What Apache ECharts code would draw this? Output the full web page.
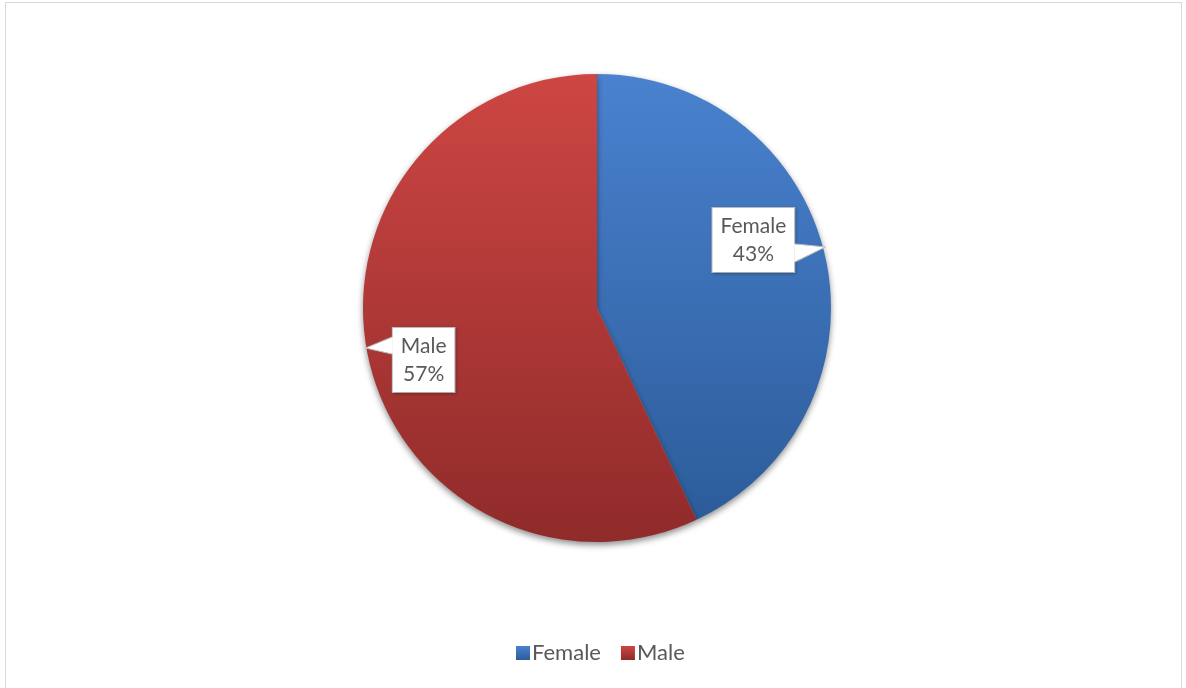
<!DOCTYPE html>
<html>
<head>
<meta charset="utf-8">
<script src="https://cdn.jsdelivr.net/npm/echarts@6/dist/echarts.min.js"></script>
<style>
  html, body { margin: 0; padding: 0; background: #fff; }
  #frame { position: absolute; left: 5px; top: 2px; width: 1177px; height: 690px; border: 1px solid #d9d9d9; box-sizing: border-box; }
  #chart { position: absolute; left: 0; top: 0; width: 1186px; height: 688px; }
</style>
</head>
<body>
<div id="frame"></div>
<div id="chart"></div>
<script>
// gender split
var categories = ['Female', 'Male'];
var percents = [43, 57];
var topColors = ['#4a82cf', '#cd4643'];
var bottomColors = ['#2c5c9a', '#8f2b2a'];

function grad(i) {
	return new echarts.graphic.LinearGradient(0, 0, 0, 1, [
		{ offset: 0, color: topColors[i] },
		{ offset: 1, color: bottomColors[i] }
	]);
}

var pieData = [];
for (var i = 0; i < categories.length; i++) {
	pieData.push({ name: categories[i], value: percents[i], itemStyle: { color: grad(i) } });
}

/*callout box placement, relative to the slice edge point*/
var boxOffset = [[-72, -17], [55, 1]];
var tipOffset = [[0, -10], [-3, -11]];
var baseSpan = [[4, 22], [-23, -6]];
var callouts = [];

var myChart = echarts.init(document.getElementById('chart'));
var option = {
	animation: false,
	legend: {
		bottom: 19,
		left: 511,
		itemWidth: 14,
		itemHeight: 14,
		itemGap: 20,
		icon: 'rect',
		textStyle: { fontFamily: 'Lato', fontSize: 22, color: '#595959', padding: [0, 0, 0, -3] },
		data: categories
	},
	series: [{
		type: 'pie',
		center: [597, 308],
		radius: 234,
		startAngle: 90,
		clockwise: true,
		data: pieData,
		itemStyle: {
			shadowBlur: 6,
			shadowOffsetY: 3,
			shadowColor: 'rgba(0,0,0,0.45)'
		},
		emphasis: { disabled: true },
		label: {
			show: true,
			position: 'outside',
			formatter: '{b}\n{c}%',
			fontFamily: 'Lato',
			fontSize: 21,
			lineHeight: 28,
			color: '#595959',
			align: 'center',
			backgroundColor: '#ffffff',
			borderColor: '#bfbfbf',
			borderWidth: 1,
			padding: [4, 8, 4, 8],
			shadowColor: 'rgba(0,0,0,0.25)',
			shadowBlur: 3,
			shadowOffsetX: 1,
			shadowOffsetY: 1
		},
		labelLine: { show: false },
		labelLayout: function (params) {
			var p = params.labelLinePoints && params.labelLinePoints[0];
			if (!p) return {};
			var i = params.dataIndex;
			var off = boxOffset[i];
			var cx = p[0] + off[0];
			var cy = p[1] + off[1];
			var half = params.labelRect.width / 2;
			callouts[i] = {
				tip: [p[0] + tipOffset[i][0], p[1] + tipOffset[i][1]],
				side: off[0] < 0 ? cx + half : cx - half,
				cy: cy
			};
			return { x: cx, y: cy, align: 'center', verticalAlign: 'middle' };
		}
	}]
};
myChart.setOption(option);

// pointer triangles of the callouts
function pointers() {
	var els = [];
	for (var i = 0; i < callouts.length; i++) {
		var c = callouts[i];
		if (!c) continue;
		var dir = c.tip[0] > c.side ? -1 : 1;
		var a = [c.side + dir, c.cy + baseSpan[i][0]];
		var b = [c.side + dir, c.cy + baseSpan[i][1]];
		els.push({
			type: 'polygon', z: 100, silent: true,
			shape: { points: [a, c.tip, b] },
			style: { fill: '#ffffff', stroke: null }
		});
		els.push({
			type: 'polyline', z: 101, silent: true,
			shape: { points: [[c.side, a[1]], c.tip, [c.side, b[1]]] },
			style: { stroke: '#bfbfbf', lineWidth: 1, fill: null }
		});
	}
	return els;
}
myChart.setOption({ graphic: pointers() });
window.onresize = myChart.resize;
</script>
</body>
</html>
